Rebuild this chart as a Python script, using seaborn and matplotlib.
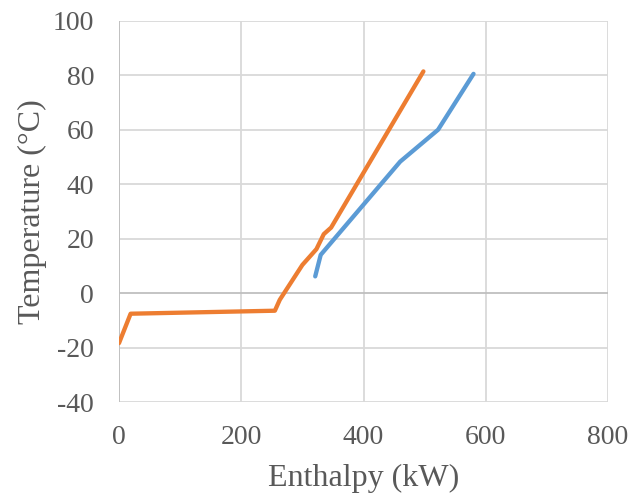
import matplotlib
matplotlib.use("Agg")
import matplotlib.pyplot as plt
import seaborn as sns
import pandas as pd

# Data
orange_x = [0, 19, 255, 263, 300, 323, 335, 347, 498]
orange_y = [-18.3, -7.5, -6.4, -2.4, 10.4, 16.2, 21.7, 24.1, 81.4]
blue_x = [321, 330, 460, 522, 580]
blue_y = [6.2, 14.1, 48.3, 60.0, 80.5]

x_ticks = [0, 200, 400, 600, 800]
y_ticks = [-40, -20, 0, 20, 40, 60, 80, 100]

sns.set_theme(style="white")
plt.rcParams['font.family'] = ['Liberation Serif', 'DejaVu Serif']
plt.rcParams['axes.unicode_minus'] = False

df_o = pd.DataFrame({"Enthalpy": orange_x, "Temperature": orange_y, "s": "orange"})
df_b = pd.DataFrame({"Enthalpy": blue_x, "Temperature": blue_y, "s": "blue"})

fig = plt.figure(figsize=(6.35, 5.04), dpi=100)
ax = fig.add_axes([119/635, 1 - 402.3/504, (608 - 119)/635, (402.3 - 20.7)/504])

grid_c = "#d9d9d9"
for xv in x_ticks:
    ax.axvline(xv, color=grid_c, lw=1.3, zorder=0)
for yv in y_ticks:
    ax.axhline(yv, color=("#bfbfbf" if yv == 0 else grid_c), lw=1.3, zorder=0)

sns.lineplot(data=df_b, x="Enthalpy", y="Temperature", sort=False, color="#5B9BD5",
             lw=3.1, ax=ax, solid_capstyle="round", estimator=None)
sns.lineplot(data=df_o, x="Enthalpy", y="Temperature", sort=False, color="#ED7D31",
             lw=3.1, ax=ax, solid_capstyle="round", estimator=None)

ax.set_xlim(0, 800)
ax.set_ylim(-40, 100)
ax.set_xticks(x_ticks)
ax.set_yticks(y_ticks)
for s in ax.spines.values():
    s.set_visible(False)
ax.axvline(0, color="#bfbfbf", lw=1.3, zorder=1)

txt_c = "#595959"
ax.tick_params(axis="both", length=0, labelsize=20, colors=txt_c)
ax.tick_params(axis="y", pad=18)
ax.tick_params(axis="x", pad=16)
ax.set_xlabel("Enthalpy (kW)", fontsize=23, color=txt_c, labelpad=10)
ax.set_ylabel("Temperature (°C)", fontsize=23, color=txt_c, labelpad=4)

fig.savefig("out.png", dpi=100)
